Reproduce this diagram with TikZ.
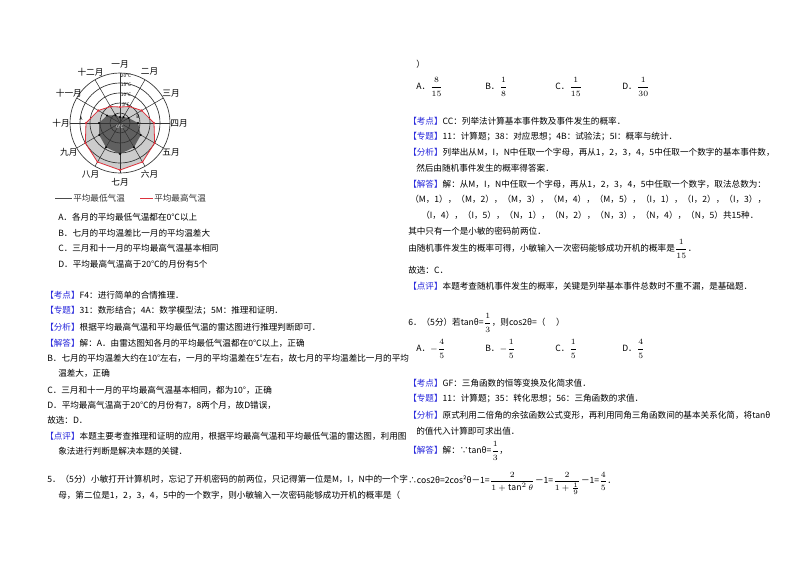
\documentclass[tikz,border=0pt]{standalone}
\usepackage{fontspec}
\setmainfont{Noto Sans CJK SC}
\usepackage{amsmath}
\usetikzlibrary{calc}
\definecolor{kblue}{RGB}{40,40,220}
\definecolor{kred}{RGB}{220,50,60}
\begin{document}
\begin{tikzpicture}[x=0.75pt,y=-0.75pt,
  t/.style={anchor=west,inner sep=0pt,font=\fontsize{6.45pt}{7pt}\selectfont},
  ml/.style={anchor=center,inner sep=0pt,font=\fontsize{6.5pt}{7pt}\selectfont},
  sm/.style={inner sep=0pt,font=\fontsize{3.6pt}{4pt}\selectfont}]
\useasboundingbox (0,0) rectangle (800,565);
\fill[white] (0,0) rectangle (800,565);
\newcommand{\kb}[1]{\textcolor{kblue}{【#1】}}
\newcommand{\fr}[2]{$\dfrac{#1}{#2}$}
% radar
\coordinate (O) at (120,123);
\foreach \v [count=\i from 0] in {16,19,25,34,40,45,47,45,40,34,25,19} {\coordinate (H\i) at ($(O)+({90-30*\i}:\v*0.75pt)$);}
\foreach \v [count=\i from 0] in {6,7,10,18,24,28,31,28,24,21,15,9} {\coordinate (L\i) at ($(O)+({90-30*\i}:\v*0.75pt)$);}
\fill[gray!40] (H0)--(H1)--(H2)--(H3)--(H4)--(H5)--(H6)--(H7)--(H8)--(H9)--(H10)--(H11)--cycle;
\fill[gray!75!black] (L0)--(L1)--(L2)--(L3)--(L4)--(L5)--(L6)--(L7)--(L8)--(L9)--(L10)--(L11)--cycle;
\foreach \r in {10,20,30,40,50} \draw[black!80,line width=0.5pt] (O) circle (\r*0.75pt);
\foreach \a in {0,30,...,330} \draw[black!80,line width=0.4pt] (O) -- ++(\a:50*0.75pt);
\draw[kred,line width=0.6pt] (H0)--(H1)--(H2)--(H3)--(H4)--(H5)--(H6)--(H7)--(H8)--(H9)--(H10)--(H11)--cycle;
\foreach \i in {0,...,11} {\fill[kred] (H\i) circle (0.9pt); \fill[black] (L\i) circle (0.8pt);}
\foreach \m [count=\i from 0] in {一月,二月,三月,四月,五月,六月,七月,八月,九月,十月,十一月,十二月}
  \node[ml] (M\i) at ($(O)+({90-30*\i}:59*0.75pt)$) {\m};
\node[sm] (c20) at (126,76) {20℃};
\node[sm] (c15) at (126,85) {15℃};
\node[sm] (c10) at (126,95) {10℃};
\node[sm] (c5) at (126,105) {5℃};
\node[sm,text=white] (c0) at (120,127) {0℃};
\node[sm] (pA) at (81,119) {\itshape A};
\node[sm] (pB) at (138,117) {\itshape B};
\draw[black!70,line width=0.5pt] (55,198) -- (72,198);
\node[t,text=black!80] (lg1) at (73,198) {平均最低气温};
\draw[kred,line width=0.6pt] (140,198) -- (153,198);
\node[t,text=black!80] (lg2) at (154,198) {平均最高气温};
% left column
\node[t] (a1) at (58,217) {A．各月的平均最低气温都在0℃以上};
\node[t] (a2) at (58,233) {B．七月的平均温差比一月的平均温差大};
\node[t] (a3) at (58,248) {C．三月和十一月的平均最高气温基本相同};
\node[t] (a4) at (58,264) {D．平均最高气温高于20℃的月份有5个};
\node[t] (k1) at (45,295) {\kb{考点}F4：进行简单的合情推理．};
\node[t] (k2) at (45,311) {\kb{专题}31：数形结合；4A：数学模型法；5M：推理和证明．};
\node[t] (k3) at (45,327) {\kb{分析}根据平均最高气温和平均最低气温的雷达图进行推理判断即可．};
\node[t] (k4) at (45,343) {\kb{解答}解：A．由雷达图知各月的平均最低气温都在0℃以上，正确};
\node[t] (k5) at (47,358) {B．七月的平均温差大约在10°左右，一月的平均温差在5°左右，故七月的平均温差比一月的平均};
\node[t] (k6) at (58,373) {温差大，正确};
\node[t] (k7) at (47,390) {C．三月和十一月的平均最高气温基本相同，都为10°，正确};
\node[t] (k8) at (47,405) {D．平均最高气温高于20℃的月份有7，8两个月，故D错误，};
\node[t] (k9) at (47,420) {故选：D．};
\node[t] (k10) at (45,436) {\kb{点评}本题主要考查推理和证明的应用，根据平均最高气温和平均最低气温的雷达图，利用图};
\node[t] (k11) at (58,451) {象法进行判断是解决本题的关键．};
\node[t] (q5a) at (47,479) {5．（5分）小敏打开计算机时，忘记了开机密码的前两位，只记得第一位是M，I，N中的一个字};
\node[t] (q5b) at (58,495) {母，第二位是1，2，3，4，5中的一个数字，则小敏输入一次密码能够成功开机的概率是（};
% right column
\node[t] (r0) at (416,64) {）};
\node[t] (oA) at (416,87) {A．\fr{8}{15}};
\node[t] (oB) at (485,87) {B．\fr{1}{8}};
\node[t] (oC) at (555,87) {C．\fr{1}{15}};
\node[t] (oD) at (622,87) {D．\fr{1}{30}};
\node[t] (s1) at (408,121) {\kb{考点}CC：列举法计算基本事件数及事件发生的概率．};
\node[t] (s2) at (408,137) {\kb{专题}11：计算题；38：对应思想；4B：试验法；5I：概率与统计．};
\node[t] (s3) at (408,152) {\kb{分析}列举出从M，I，N中任取一个字母，再从1，2，3，4，5中任取一个数字的基本事件数，};
\node[t] (s4) at (416,168) {然后由随机事件发生的概率得答案．};
\node[t] (s5) at (408,184) {\kb{解答}解：从M，I，N中任取一个字母，再从1，2，3，4，5中任取一个数字，取法总数为：};
\node[t] (s6) at (410,199) {（M，1），（M，2），（M，3），（M，4），（M，5），（I，1），（I，2），（I，3），};
\node[t] (s7) at (421,215) {（I，4），（I，5），（N，1），（N，2），（N，3），（N，4），（N，5）共15种．};
\node[t] (s8) at (408,231) {其中只有一个是小敏的密码前两位．};
\node[t] (s9) at (408,249) {由随机事件发生的概率可得，小敏输入一次密码能够成功开机的概率是\fr{1}{15}．};
\node[t] (s10) at (408,270) {故选：C．};
\node[t] (s11) at (408,286) {\kb{点评}本题考查随机事件发生的概率，关键是列举基本事件总数时不重不漏，是基础题．};
\node[t] (q6) at (408,323) {6．（5分）若tanθ=\fr{1}{3}，则cos2θ=（\quad\ ）};
\node[t] (pA6) at (416,349) {A．$-$\fr{4}{5}};
\node[t] (pB6) at (485,349) {B．$-$\fr{1}{5}};
\node[t] (pC6) at (555,349) {C．\fr{1}{5}};
\node[t] (pD6) at (622,349) {D．\fr{4}{5}};
\node[t] (u1) at (408,383) {\kb{考点}GF：三角函数的恒等变换及化简求值．};
\node[t] (u2) at (408,399) {\kb{专题}11：计算题；35：转化思想；56：三角函数的求值．};
\node[t] (u3) at (408,415) {\kb{分析}原式利用二倍角的余弦函数公式变形，再利用同角三角函数间的基本关系化简，将tanθ};
\node[t] (u4) at (416,431) {的值代入计算即可求出值．};
\node[t] (u5) at (408,451) {\kb{解答}解：∵tanθ=\fr{1}{3}，};
\node[t] (u6) at (408,483) {∴cos2θ=2cos²θ－1=\fr{2}{1+\tan^2\theta}－1=\fr{2}{1+\frac{1}{9}}－1=\fr{4}{5}．};
\end{tikzpicture}
\end{document}
